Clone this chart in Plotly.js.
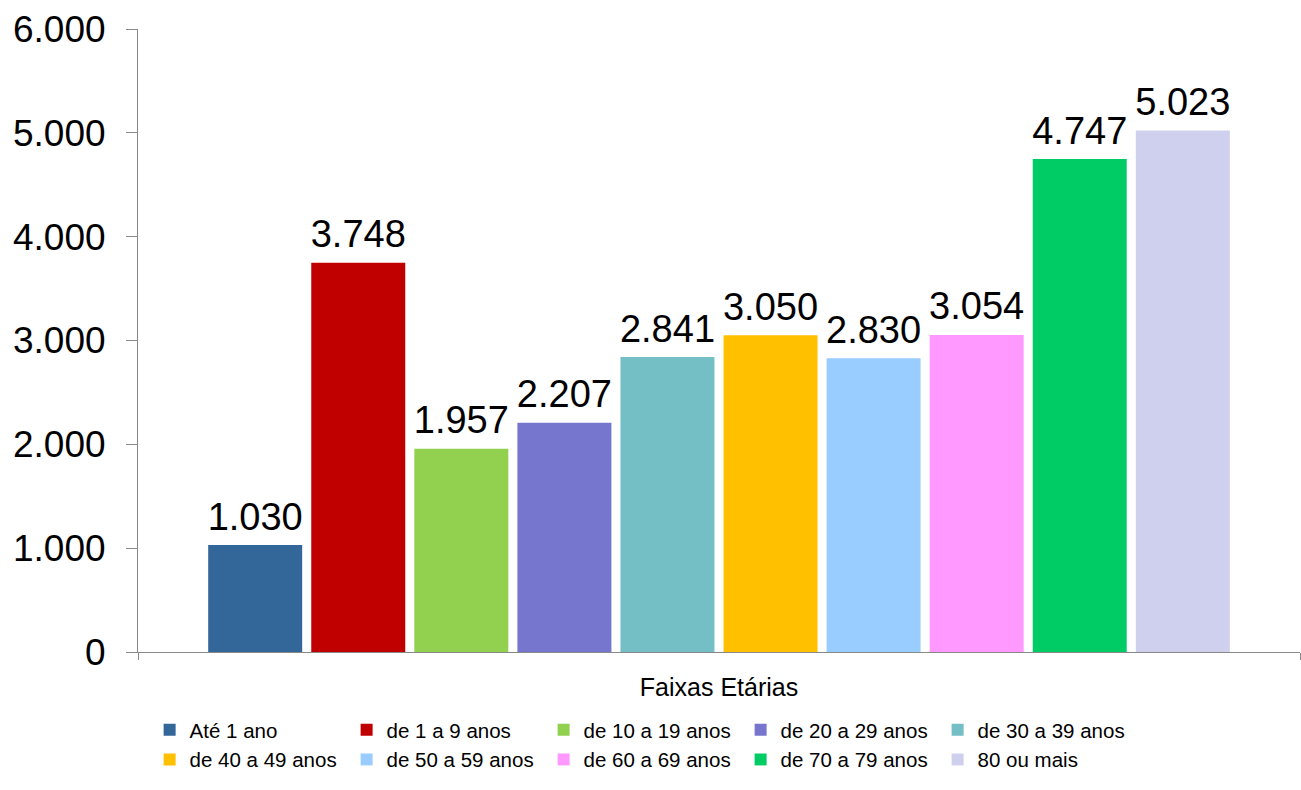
<!DOCTYPE html>
<html>
<head>
<meta charset="utf-8">
<script src="https://cdn.plot.ly/plotly-3.0.1.min.js"></script>
<style>
  html, body { margin: 0; padding: 0; background: #ffffff; }
  #plot { width: 1301px; height: 790px; }
</style>
</head>
<body>
<div id="plot"></div>
<script>
// Data
const category = 'Faixas Etárias';
const seriesNames = [
    'Até 1 ano', 'de 1 a 9 anos', 'de 10 a 19 anos', 'de 20 a 29 anos', 'de 30 a 39 anos',
    'de 40 a 49 anos', 'de 50 a 59 anos', 'de 60 a 69 anos', 'de 70 a 79 anos', '80 ou mais'
];
const seriesValues = [1030, 3748, 1957, 2207, 2841, 3050, 2830, 3054, 4747, 5023];
const seriesColors = [
    '#336699', '#C00000', '#92D050', '#7676CF', '#73BFC5',
    '#FFC000', '#99CCFF', '#FF99FF', '#00CC66', '#CFCFEE'
];
const yTicks = [0, 1000, 2000, 3000, 4000, 5000, 6000];

const fontFamily = 'Liberation Sans, Arial, sans-serif';

// one bar trace per age band, all in the single category
const barTraces = seriesNames.map((name, i) => ({
    type: 'bar',
    name: name,
    x: [category],
    y: [seriesValues[i]],
    marker: { color: seriesColors[i], line: { width: 0 } },
    offsetgroup: 'g' + i,
    alignmentgroup: 'a',
    hoverinfo: 'skip'
}));

// value labels, aligned with the bars through the same offset groups
const labelTraces = seriesNames.map((name, i) => ({
    type: 'scatter',
    mode: 'markers+text',
    x: [category],
    y: [seriesValues[i]],
    texttemplate: '%{y:,}',
    textposition: 'top center',
    textfont: { family: fontFamily, size: 38, color: '#000000' },
    marker: { size: 8, opacity: 0 },
    offsetgroup: 'g' + i,
    alignmentgroup: 'a',
    showlegend: false,
    hoverinfo: 'skip',
    cliponaxis: false
}));

const layout = {
    width: 1301,
    height: 790,
    margin: { l: 138, r: 1, t: 29, b: 138 },
    paper_bgcolor: '#ffffff',
    plot_bgcolor: '#ffffff',
    separators: ',.',
    font: { family: fontFamily, color: '#000000' },
    barmode: 'group',
    scattermode: 'group',
    bargap: 0.113,
    bargroupgap: 0.088,
    scattergap: 0.113,
    showlegend: true,
    legend: {
        orientation: 'h',
        x: 0.01,
        xanchor: 'left',
        y: -0.093,
        yanchor: 'top',
        entrywidth: 152,
        traceorder: 'normal',
        font: { family: fontFamily, size: 20.5, color: '#000000' },
        itemclick: false
    },
    xaxis: {
        type: 'category',
        showline: true,
        linecolor: '#898989',
        linewidth: 1,
        ticks: 'outside',
        tickson: 'boundaries',
        ticklen: 7,
        tickcolor: '#898989',
        ticklabelstandoff: 13,
        tickfont: { family: fontFamily, size: 25, color: '#000000' },
        showgrid: false,
        zeroline: false
    },
    yaxis: {
        range: [0, 6000],
        tickvals: yTicks,
        tickformat: ',',
        showline: true,
        linecolor: '#898989',
        linewidth: 1,
        ticks: 'outside',
        ticklen: 11,
        tickcolor: '#898989',
        ticklabelstandoff: 13,
        tickfont: { family: fontFamily, size: 37, color: '#000000' },
        showgrid: false,
        zeroline: false
    }
};

Plotly.newPlot('plot', [...barTraces, ...labelTraces], layout, { staticPlot: true, displayModeBar: false });
</script>
</body>
</html>
